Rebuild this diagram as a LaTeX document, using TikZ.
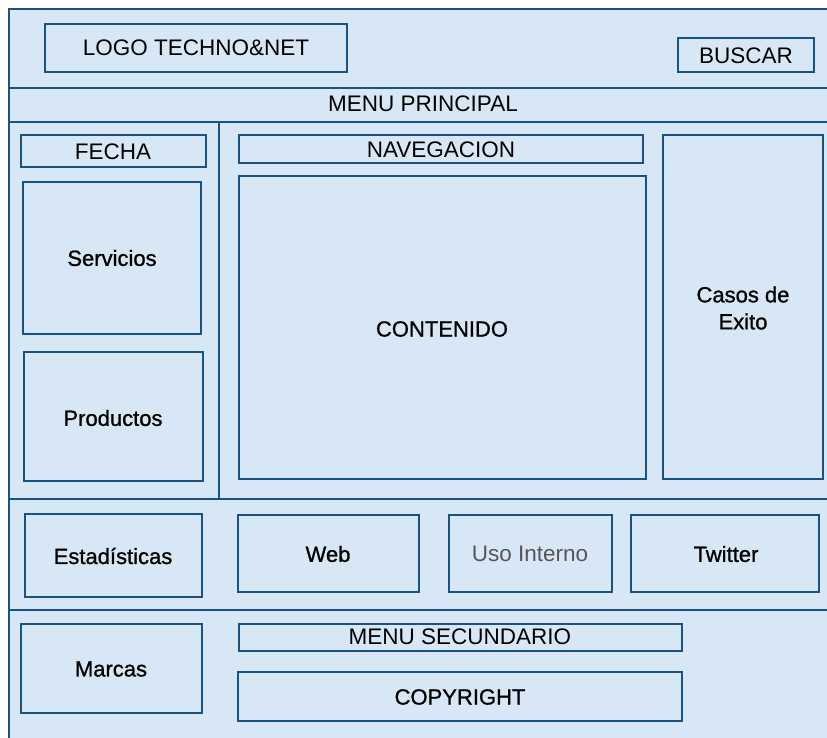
\documentclass[tikz,border=0pt]{standalone}
\usepackage{fontspec}
\setmainfont{Liberation Sans}
\newfontfamily\semib[FakeBold=1.0]{Liberation Sans}
\definecolor{edgeblue}{RGB}{28,82,130}
\definecolor{panefill}{RGB}{216,231,245}
\definecolor{softgray}{RGB}{85,85,85}
\begin{document}
\begin{tikzpicture}[x=1pt,y=-1pt,
  box/.style={draw=edgeblue,line width=2.6pt,fill=panefill},
  divider/.style={draw=edgeblue,line width=2.6pt},
  lbl/.style={font=\fontsize{22.5}{27}\selectfont,text=black,inner sep=0pt},
  lblb/.style={font=\fontsize{22}{27}\selectfont\semib,text=black,inner sep=0pt,align=center}]
\clip (0,0) rectangle (827,738);
\fill[white] (0,0) rectangle (827,738);
% outer frame
\draw[box] (9,9) rectangle (832,745);
% dividers
\draw[divider] (9,88) -- (832,88);
\draw[divider] (9,122) -- (832,122);
\draw[divider] (9,499) -- (832,499);
\draw[divider] (9,610) -- (832,610);
\draw[divider] (219,122) -- (219,499);
% boxes
\draw[box] (45,24) rectangle (347,72);
\draw[box] (678,38) rectangle (814,72);
\draw[box] (21,135) rectangle (206,167);
\draw[box] (23,182) rectangle (201,334);
\draw[box] (24,352) rectangle (203,481);
\draw[box] (239,135) rectangle (643,163);
\draw[box] (239,176) rectangle (646,479);
\draw[box] (663,135) rectangle (823,479);
\draw[box] (25,514) rectangle (202,597);
\draw[box] (238,515) rectangle (419,592);
\draw[box] (449,515) rectangle (612,592);
\draw[box] (631,515) rectangle (819,592);
\draw[box] (21,624) rectangle (202,713);
\draw[box] (239,624) rectangle (682,651);
\draw[box] (238,672) rectangle (682,721);
% labels
\node[lbl] (logo) at (196,48) {LOGO TECHNO\&NET};
\node[lbl] (buscar) at (746,56) {BUSCAR};
\node[lbl] (menup) at (423,104) {MENU PRINCIPAL};
\node[lbl] (fecha) at (113,152) {FECHA};
\node[lbl] (nav) at (441,150) {NAVEGACION};
\node[lblb] (serv) at (112,258) {Servicios};
\node[lblb] (prod) at (113,418) {Productos};
\node[lblb] (cont) at (442,329) {CONTENIDO};
\node[lblb] (casos) at (743,308) {Casos de\\Exito};
\node[lblb] (estad) at (113,556) {Estadísticas};
\node[lblb] (web) at (328,554) {Web};
\node[lbl,text=softgray] (uso) at (530,554) {Uso Interno};
\node[lblb] (tw) at (726,554) {Twitter};
\node[lblb] (marcas) at (111,669) {Marcas};
\node[lbl] (menus) at (460,637) {MENU SECUNDARIO};
\node[lblb] (copy) at (460,697) {COPYRIGHT};
\end{tikzpicture}
\end{document}
